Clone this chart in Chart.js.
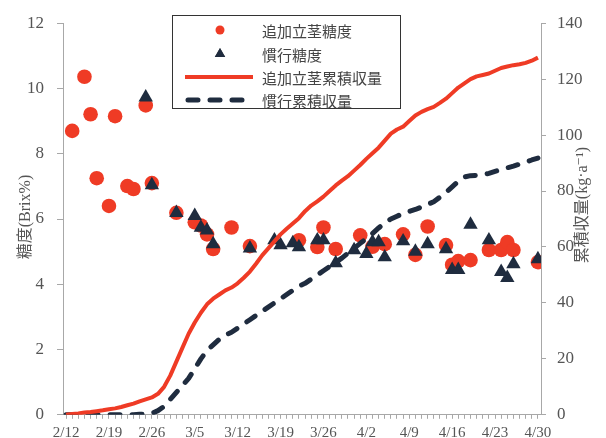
<!DOCTYPE html>
<html>
<head>
<meta charset="utf-8">
<script src="https://cdn.jsdelivr.net/npm/chart.js@4/dist/chart.umd.min.js"></script>
<style>
  html, body { margin: 0; padding: 0; background: #fff; }
  #wrap { width: 606px; height: 438px; }
</style>
</head>
<body>
<div id="wrap"><canvas id="c" width="606" height="438"></canvas></div>
<script>
// Weekly date labels on the x axis (day 0 = 2/12, one label every 7 days)
const tickLabels = ['2/12', '2/19', '2/26', '3/5', '3/12', '3/19', '3/26', '4/2', '4/9', '4/16', '4/23', '4/30'];

// Sugar content (Brix %) — additional-stem plots
const addBrixDays = [1, 3, 4, 5, 7, 8, 10, 11, 13, 14, 18, 21, 22, 23, 24, 27, 30, 38, 41, 42, 44, 48, 50, 52, 55, 57, 59, 62, 63, 64, 66, 69, 71, 72, 73, 77];
const addBrix = [8.70, 10.36, 9.21, 7.25, 6.40, 9.15, 7.01, 6.92, 9.48, 7.10, 6.19, 5.90, 5.80, 5.53, 5.08, 5.74, 5.17, 5.35, 5.14, 5.74, 5.08, 5.50, 5.15, 5.23, 5.53, 4.90, 5.77, 5.20, 4.60, 4.71, 4.74, 5.05, 5.05, 5.29, 5.05, 4.68];

// Sugar content (Brix %) — conventional plots
const convBrixDays = [13, 14, 18, 21, 22, 23, 24, 30, 34, 35, 37, 38, 41, 42, 44, 47, 49, 50, 51, 52, 55, 57, 59, 62, 63, 64, 66, 69, 71, 72, 73, 77];
const convBrix = [9.73, 7.04, 6.19, 6.10, 5.74, 5.65, 5.23, 5.10, 5.35, 5.20, 5.26, 5.14, 5.35, 5.35, 4.65, 5.05, 4.93, 5.29, 5.29, 4.83, 5.32, 5.00, 5.23, 5.08, 4.44, 4.44, 5.83, 5.35, 4.38, 4.20, 4.62, 4.77];

// Cumulative yield (kg/a), one value per day from 2/12 to 4/30
const addYield = [0, 0.3, 0.5, 0.8, 1.0, 1.3, 1.6, 2.0, 2.3, 2.8, 3.4, 4.0, 4.8, 5.5, 6.2, 7.5, 10, 14, 19, 24, 29, 33, 36.5, 39.5, 41.5, 43, 44.5, 45.5, 47, 49, 51.2, 54, 57, 59.5, 62, 64.5, 66.5, 68.4, 70.3, 72.8, 74.8, 76.3, 78, 80, 82, 83.7, 85.3, 87.3, 89.3, 91.5, 93.5, 95.5, 98, 100.5, 102, 103, 105, 107, 108.3, 109.3, 110.1, 111.5, 113, 115, 117, 118.5, 120, 121, 121.5, 122, 123, 124, 124.5, 125, 125.3, 125.8, 126.6, 127.7];
const convYield = [0, 0, 0, 0, 0, 0, 0, 0, 0, 0, 0, 0, 0.2, 0.3, 0.5, 1.5, 3, 5.5, 8, 10.5, 13, 16.5, 20, 23, 25, 27, 28.5, 29.5, 31, 32.5, 34, 35.5, 37, 38.5, 40, 41.5, 43, 44.5, 46, 47, 48.5, 50, 51.5, 53, 54.5, 56, 57.8, 59.5, 61.3, 63, 64.8, 66.8, 68.6, 70, 71, 72, 72.7, 73.4, 74.3, 75.2, 76.2, 77.8, 79.5, 81.5, 83.5, 85, 85.5, 85.6, 85.8, 86.3, 87, 87.7, 88.3, 88.9, 89.6, 90.3, 91.1, 91.8];

const RED = '#ef3b25';
const NAVY = '#1f2c3f';
const AXIS = '#a8a8a8';
const TEXT = '#555555';
const SERIF = '"Liberation Serif", "DejaVu Serif", "Noto Sans CJK JP", serif';
const JP = '"Noto Sans CJK JP", "Liberation Serif", sans-serif';

const toPts = (xs, ys) => xs.map((x, i) => ({ x, y: ys[i] }));
const toDaily = (ys) => ys.map((y, i) => ({ x: i, y }));

// Axis titles and the boxed legend inside the plot
const decorations = {
  id: 'decorations',
  afterDraw(chart) {
    const ctx = chart.ctx;
    const area = chart.chartArea;
    ctx.save();
    ctx.fillStyle = TEXT;
    ctx.textAlign = 'center';
    ctx.textBaseline = 'middle';
    ctx.font = '16px ' + SERIF;
    const midY = (area.top + area.bottom) / 2;
    // left title
    ctx.save();
    ctx.translate(26, midY - 2);
    ctx.rotate(-Math.PI / 2);
    ctx.fillText('糖度(Brix%)', 0, 0);
    ctx.restore();
    // right title
    ctx.save();
    ctx.translate(583, midY - 14);
    ctx.rotate(-Math.PI / 2);
    ctx.fillText('累積収量(kg·a⁻¹)', 0, 0);
    ctx.restore();

    // legend
    const bx = 172, by = 15, bw = 228, bh = 93;
    ctx.fillStyle = '#fff';
    ctx.fillRect(bx, by, bw, bh);
    ctx.strokeStyle = '#333';
    ctx.lineWidth = 1;
    ctx.strokeRect(bx + 0.5, by + 0.5, bw, bh);
    const rows = [30, 54, 77, 100];
    const ds = chart.data.datasets;
    const order = [0, 1, 2, 3];
    ctx.textAlign = 'left';
    ctx.font = '15px ' + JP;
    order.forEach((di, r) => {
      const d = ds[di];
      const y = rows[r];
      if (d.type === 'line') {
        ctx.save();
        ctx.strokeStyle = d.borderColor;
        ctx.lineWidth = d.borderWidth;
        ctx.lineCap = d.borderCapStyle || 'butt';
        ctx.setLineDash(d.borderDash || []);
        ctx.beginPath();
        ctx.moveTo(d.borderDash ? 188 : 185, y);
        ctx.lineTo(d.borderDash ? 250 : 253, y);
        ctx.stroke();
        ctx.restore();
      } else {
        Chart.helpers.drawPoint(ctx, {
          pointStyle: d.pointStyle,
          radius: d.pointStyle === 'triangle' ? 6 : 4.5,
          borderWidth: 0
        }, 220, y);
        ctx.fillStyle = d.backgroundColor;
        ctx.fill();
      }
      ctx.fillStyle = '#444';
      ctx.fillText(d.label, 262, y + 1);
    });
    ctx.restore();
  }
};

new Chart(document.getElementById('c'), {
  data: {
    datasets: [
      {
        type: 'scatter', label: '追加立茎糖度', yAxisID: 'y',
        data: toPts(addBrixDays, addBrix),
        pointStyle: 'circle', pointRadius: 7.3, backgroundColor: RED, borderWidth: 0, order: 4
      },
      {
        type: 'scatter', label: '慣行糖度', yAxisID: 'y',
        data: toPts(convBrixDays, convBrix),
        pointStyle: 'triangle', pointRadius: 8.3, backgroundColor: NAVY, borderWidth: 0, order: 3
      },
      {
        type: 'line', label: '追加立茎累積収量', yAxisID: 'y1',
        data: toDaily(addYield),
        borderColor: RED, borderWidth: 4, pointRadius: 0, tension: 0, fill: false,
        borderJoinStyle: 'round', order: 1
      },
      {
        type: 'line', label: '慣行累積収量', yAxisID: 'y1',
        data: toDaily(convYield),
        borderColor: NAVY, borderWidth: 5, pointRadius: 0, tension: 0, fill: false,
        borderDash: [10, 12], borderCapStyle: 'round', borderJoinStyle: 'round', order: 2
      }
    ]
  },
  options: {
    responsive: false,
    animation: false,
    devicePixelRatio: 1,
    layout: { padding: { top: 18, left: 0, right: 0, bottom: 0 } },
    plugins: { legend: { display: false }, tooltip: { enabled: false } },
    scales: {
      x: {
        type: 'linear', position: 'bottom', min: -0.5, max: 77.5,
        afterBuildTicks(scale) {
          const t = [];
          for (let i = 0; i <= 77; i++) t.push({ value: i });
          scale.ticks = t;
        },
        afterFit(scale) { scale.height = 23; },
        grid: { drawOnChartArea: false, tickLength: 4, color: AXIS },
        border: { color: AXIS },
        ticks: {
          autoSkip: false, maxRotation: 0, padding: 5, color: TEXT,
          font: { family: SERIF, size: 15 },
          callback: (v) => (v % 7 === 0 ? tickLabels[v / 7] : '')
        }
      },
      y: {
        type: 'linear', position: 'left', min: 0, max: 12,
        afterFit(scale) { scale.width = 63; },
        grid: { drawOnChartArea: false, tickLength: 6, color: AXIS },
        border: { color: AXIS },
        ticks: { stepSize: 2, padding: 13, color: TEXT, font: { family: SERIF, size: 17 } }
      },
      y1: {
        type: 'linear', position: 'right', min: 0, max: 140,
        afterFit(scale) { scale.width = 65; },
        grid: { drawOnChartArea: false, tickLength: 5, color: AXIS },
        border: { color: AXIS },
        ticks: { stepSize: 20, padding: 11, color: TEXT, font: { family: SERIF, size: 17 } }
      }
    }
  },
  plugins: [decorations]
});
</script>
</body>
</html>
